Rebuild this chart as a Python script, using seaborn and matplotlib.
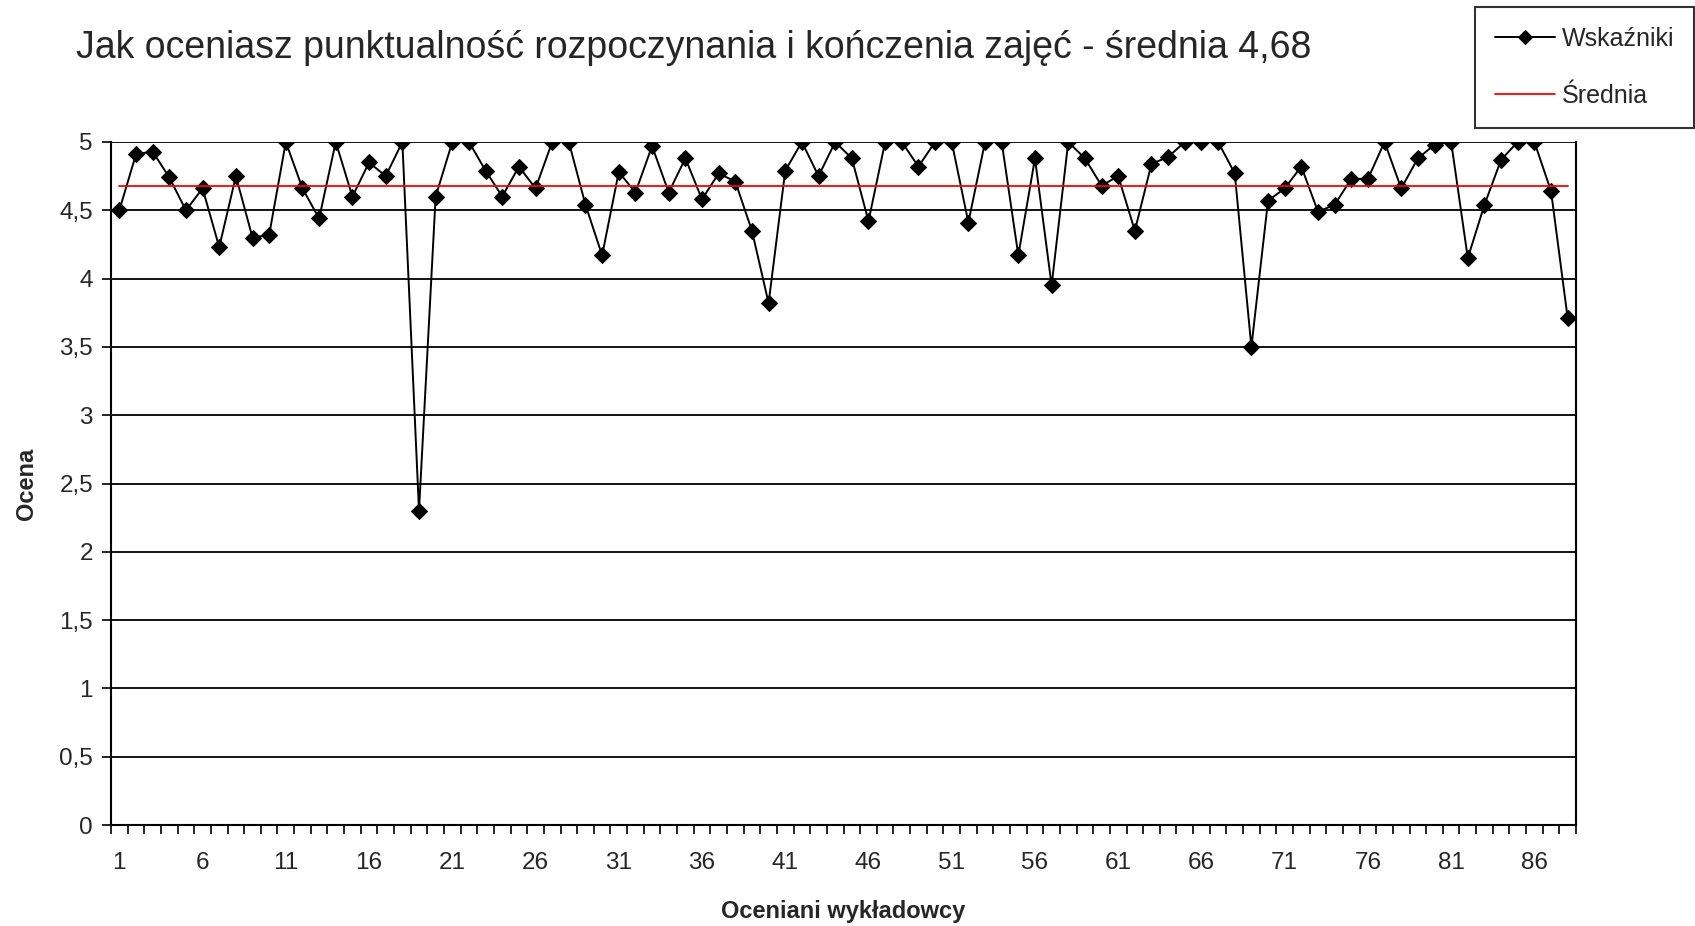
import matplotlib

matplotlib.use("Agg")

import matplotlib.pyplot as plt
import numpy as np
import seaborn as sns
from matplotlib.ticker import FixedLocator

# values
lecturers = list(range(1, 89))
scores = [
    4.50, 4.91, 4.93, 4.74, 4.50, 4.66, 4.23, 4.75, 4.30, 4.32,
    5.00, 4.66, 4.44, 5.00, 4.60, 4.85, 4.75, 5.00, 2.30, 4.60,
    5.00, 5.00, 4.79, 4.60, 4.82, 4.66, 5.00, 5.00, 4.54, 4.17,
    4.78, 4.63, 4.97, 4.63, 4.88, 4.58, 4.77, 4.71, 4.35, 3.82,
    4.79, 5.00, 4.75, 5.00, 4.88, 4.42, 5.00, 5.00, 4.82, 5.00,
    5.00, 4.41, 5.00, 5.00, 4.17, 4.88, 3.95, 5.00, 4.88, 4.68,
    4.75, 4.35, 4.84, 4.89, 5.00, 5.00, 5.00, 4.77, 3.50, 4.57,
    4.66, 4.82, 4.49, 4.54, 4.73, 4.73, 5.00, 4.66, 4.88, 4.98,
    5.00, 4.15, 4.54, 4.87, 5.00, 5.00, 4.64, 3.71,
]
mean_score = 4.68
mean_line = [mean_score] * len(lecturers)

x_tick_values = list(range(1, 89, 5))
y_tick_values = [0, 0.5, 1, 1.5, 2, 2.5, 3, 3.5, 4, 4.5, 5]
y_tick_labels = ["0", "0,5", "1", "1,5", "2", "2,5", "3", "3,5", "4", "4,5", "5"]

title = "Jak oceniasz punktualność rozpoczynania i kończenia zajęć - średnia 4,68"

sns.set_style("white")
plt.rcParams["font.family"] = ["Liberation Sans", "DejaVu Sans"]

fig = plt.figure(figsize=(16.95, 9.26), dpi=100)
ax = fig.add_axes([0.0655, 0.109, 0.8643, 0.7377])

sns.lineplot(
    x=lecturers,
    y=scores,
    ax=ax,
    color="black",
    linewidth=1.4,
    marker="D",
    markersize=8,
    markeredgecolor="black",
    label="Wskaźniki",
)
sns.lineplot(x=lecturers, y=mean_line, ax=ax, color="#ff0000", linewidth=1.3, label="Średnia")

ax.set_xlim(0.5, 88.5)
ax.set_ylim(0, 5)
ax.set_yticks(y_tick_values)
ax.set_yticklabels(y_tick_labels, fontsize=17.5)
ax.yaxis.grid(True, color="black", linewidth=1.3)
ax.set_axisbelow(True)

ax.set_xticks(x_tick_values)
ax.set_xticklabels([str(v) for v in x_tick_values], fontsize=17.5)
ax.xaxis.set_minor_locator(FixedLocator(np.arange(0.5, 89, 1)))
ax.tick_params(axis="x", which="major", length=0, pad=19.5)
ax.tick_params(axis="x", which="minor", bottom=True, length=6.5, width=1.2, color="black")
ax.tick_params(axis="y", left=True, length=6.5, width=1.2, color="black", pad=6.5)

for side in ["left", "bottom", "right"]:
    ax.spines[side].set_color("black")
    ax.spines[side].set_linewidth(1.5)
ax.spines["top"].set_visible(False)

ax.set_xlabel("Oceniani wykładowcy", fontsize=17, fontweight="bold", labelpad=18.5)
ax.set_ylabel("Ocena", fontsize=17, fontweight="bold", labelpad=15)

fig.text(0.045, 0.948, title, fontsize=27, va="center", ha="left")

ax.get_legend().remove()
handles, labels = ax.get_legend_handles_labels()
leg = fig.legend(
    handles,
    labels,
    loc="upper right",
    bbox_to_anchor=(0.9994, 0.9924),
    fontsize=18,
    frameon=True,
    fancybox=False,
    edgecolor="black",
    labelspacing=1.3,
    handlelength=2.4,
    handletextpad=0.25,
    borderpad=0.8,
    borderaxespad=0,
    markerscale=0.9,
)
leg.get_frame().set_linewidth(1.5)

fig.savefig("out.png", dpi=100)
